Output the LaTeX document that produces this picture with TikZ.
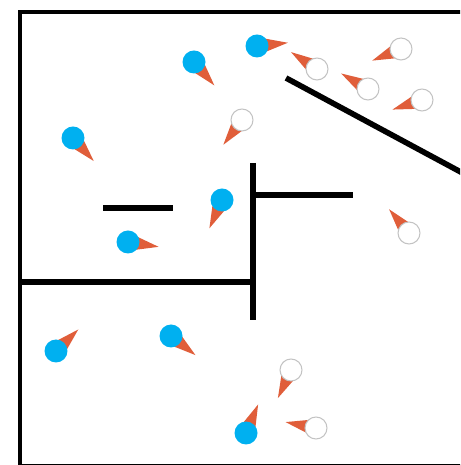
\documentclass[tikz,border=0pt]{standalone}
\usepackage{xcolor}

\definecolor{agentblue}{RGB}{0,176,240}
\definecolor{conered}{RGB}{224,94,58}
\definecolor{ghostgray}{RGB}{195,195,195}

\tikzset{
    frame/.style={line width=2pt},
    wall/.style={line width=3.2pt},
    cone/.style={fill=conered},
    blueagent/.style={circle, fill=agentblue, inner sep=0pt, minimum size=0.46cm},
    ghostagent/.style={circle, draw=ghostgray, fill=white, line width=0.6pt, inner sep=0pt, minimum size=0.44cm}
}

% #1 style, #2 name, #3 position, #4 heading
\newcommand{\drawagent}[4]{%
    \fill[cone, shift={(#3)}] (#4+36:11) -- (#4:31) -- (#4-36:11) -- cycle;
    \node[#1] (#2) at (#3) {};
}

\begin{document}
\begin{tikzpicture}[x=0.02cm, y=0.02cm]
    \useasboundingbox (0,0) rectangle (460,465);
    \clip (0,0) rectangle (460,465);

    \draw[frame] (20,-0.9) rectangle (490,453);

    % walls
    \draw[wall] (286,387) -- (470,288);
    \draw[wall] (103,257) -- (173,257);
    \draw[wall] (253,302) -- (253,145);
    \draw[wall] (253,270) -- (353,270);
    \draw[wall] (20,183) -- (253,183);

    % blue agents
    \drawagent{blueagent}{b1}{194,403}{-49}
    \drawagent{blueagent}{b2}{257,419}{6}
    \drawagent{blueagent}{b3}{73,327}{-48}
    \drawagent{blueagent}{b4}{222,265}{-114}
    \drawagent{blueagent}{b5}{128,223}{-9}
    \drawagent{blueagent}{b6}{56,114}{44}
    \drawagent{blueagent}{b7}{171,129}{-38}
    \drawagent{blueagent}{b8}{246,32}{67}

    % white agents
    \drawagent{ghostagent}{w1}{317,396}{147}
    \drawagent{ghostagent}{w2}{401,416}{-158}
    \drawagent{ghostagent}{w3}{368,376}{150}
    \drawagent{ghostagent}{w4}{422,365}{-162}
    \drawagent{ghostagent}{w5}{242,345}{-127}
    \drawagent{ghostagent}{w6}{409,232}{130}
    \drawagent{ghostagent}{w7}{291,95}{-115}
    \drawagent{ghostagent}{w8}{316,37}{169}
\end{tikzpicture}
\end{document}
